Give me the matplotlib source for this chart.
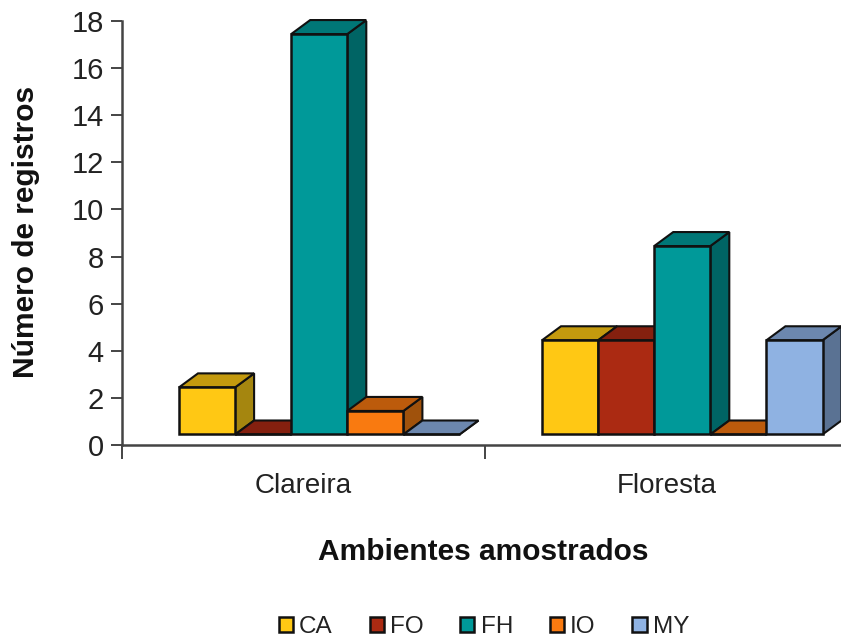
import matplotlib
matplotlib.use("Agg")
import matplotlib.pyplot as plt
from matplotlib.patches import Patch, Polygon

plt.rcParams['font.family'] = ['Liberation Sans', 'DejaVu Sans']

ambientes = ["Clareira", "Floresta"]
grupos = ["CA", "FO", "FH", "IO", "MY"]
clareira = [2, 0, 17, 1, 0]
floresta = [4, 4, 8, 0, 4]
frente = ["#FFC814", "#AB2A12", "#009999", "#F97A10", "#8FB2E2"]
topo = ["#C49A0E", "#84200F", "#007777", "#BC5B0C", "#6C87AE"]
lado = ["#A5860F", "#6E1B0C", "#006464", "#A0520C", "#5A7293"]

W, H = 841, 641
fig = plt.figure(figsize=(W / 100, H / 100), dpi=100)
ax = fig.add_axes([122 / W, 1 - 445 / H, (W - 122) / W, 424 / H])

# fake 3d: depth and floor height in data units
largura = 56.1 / 363
dx = 19 / 363
dy = 14 / 23.55
piso = 10.5 / 23.55
inicio = (179 - 122) / 363
ec = "#111111"


def barra3d(x, v, i):
    t = piso + v
    ax.bar(x, v, largura, bottom=piso, align="edge", color=frente[i],
           edgecolor=ec, linewidth=1.8, zorder=3 + 0.1 * i)
    cima = [(x, t), (x + largura, t), (x + largura + dx, t + dy), (x + dx, t + dy)]
    dir_ = [(x + largura, piso), (x + largura + dx, piso + dy),
            (x + largura + dx, t + dy), (x + largura, t)]
    z = 2.9 + 0.1 * i
    ax.add_patch(Polygon(dir_, closed=True, fc=lado[i], ec=ec, lw=1.5, zorder=z))
    ax.add_patch(Polygon(cima, closed=True, fc=topo[i], ec=ec, lw=1.5, zorder=z,
                         clip_on=False))


for g, valores in enumerate([clareira, floresta]):
    for i, v in enumerate(valores):
        barra3d(g + inicio + i * largura, v, i)

ax.spines["top"].set_visible(False)
ax.spines["right"].set_visible(False)
for s in ["left", "bottom"]:
    ax.spines[s].set_color("#444444")
    ax.spines[s].set_linewidth(1.8)

ax.set_yticks(range(0, 19, 2))
ax.set_xticks([0, 1])
ax.set_xticklabels([])
ax.set_xlim(0, (W - 122) / 363)
ax.set_ylim(0, 18)
ax.tick_params(axis="y", labelsize=21, length=8, width=1.4, color="#444444",
               labelcolor="#222222", pad=5)
ax.tick_params(axis="x", length=10, width=1.4, color="#444444")
for g, nome in enumerate(ambientes):
    ax.text(g + 0.5, -1.72, nome, ha="center", va="center", fontsize=20, color="#222222")

fig.text(26 / W, 1 - 232 / H, "Número de registros", rotation=90, ha="center", va="center",
         fontsize=21.5, fontweight="bold", color="#111111")
fig.text(483 / W, 1 - 552 / H, "Ambientes amostrados", ha="center", va="center",
         fontsize=21.5, fontweight="bold", color="#111111")

alcas = [Patch(fc=frente[i], ec="#111111", lw=1.8) for i in range(len(grupos))]
fig.legend(alcas, grupos, ncol=5, loc="center", bbox_to_anchor=(484 / W, 1 - 627 / H),
           frameon=False, fontsize=17.5, handlelength=0.58, handleheight=0.58,
           handletextpad=0.25, columnspacing=1.52, labelcolor="#222222")

fig.savefig("out.png", dpi=100)
